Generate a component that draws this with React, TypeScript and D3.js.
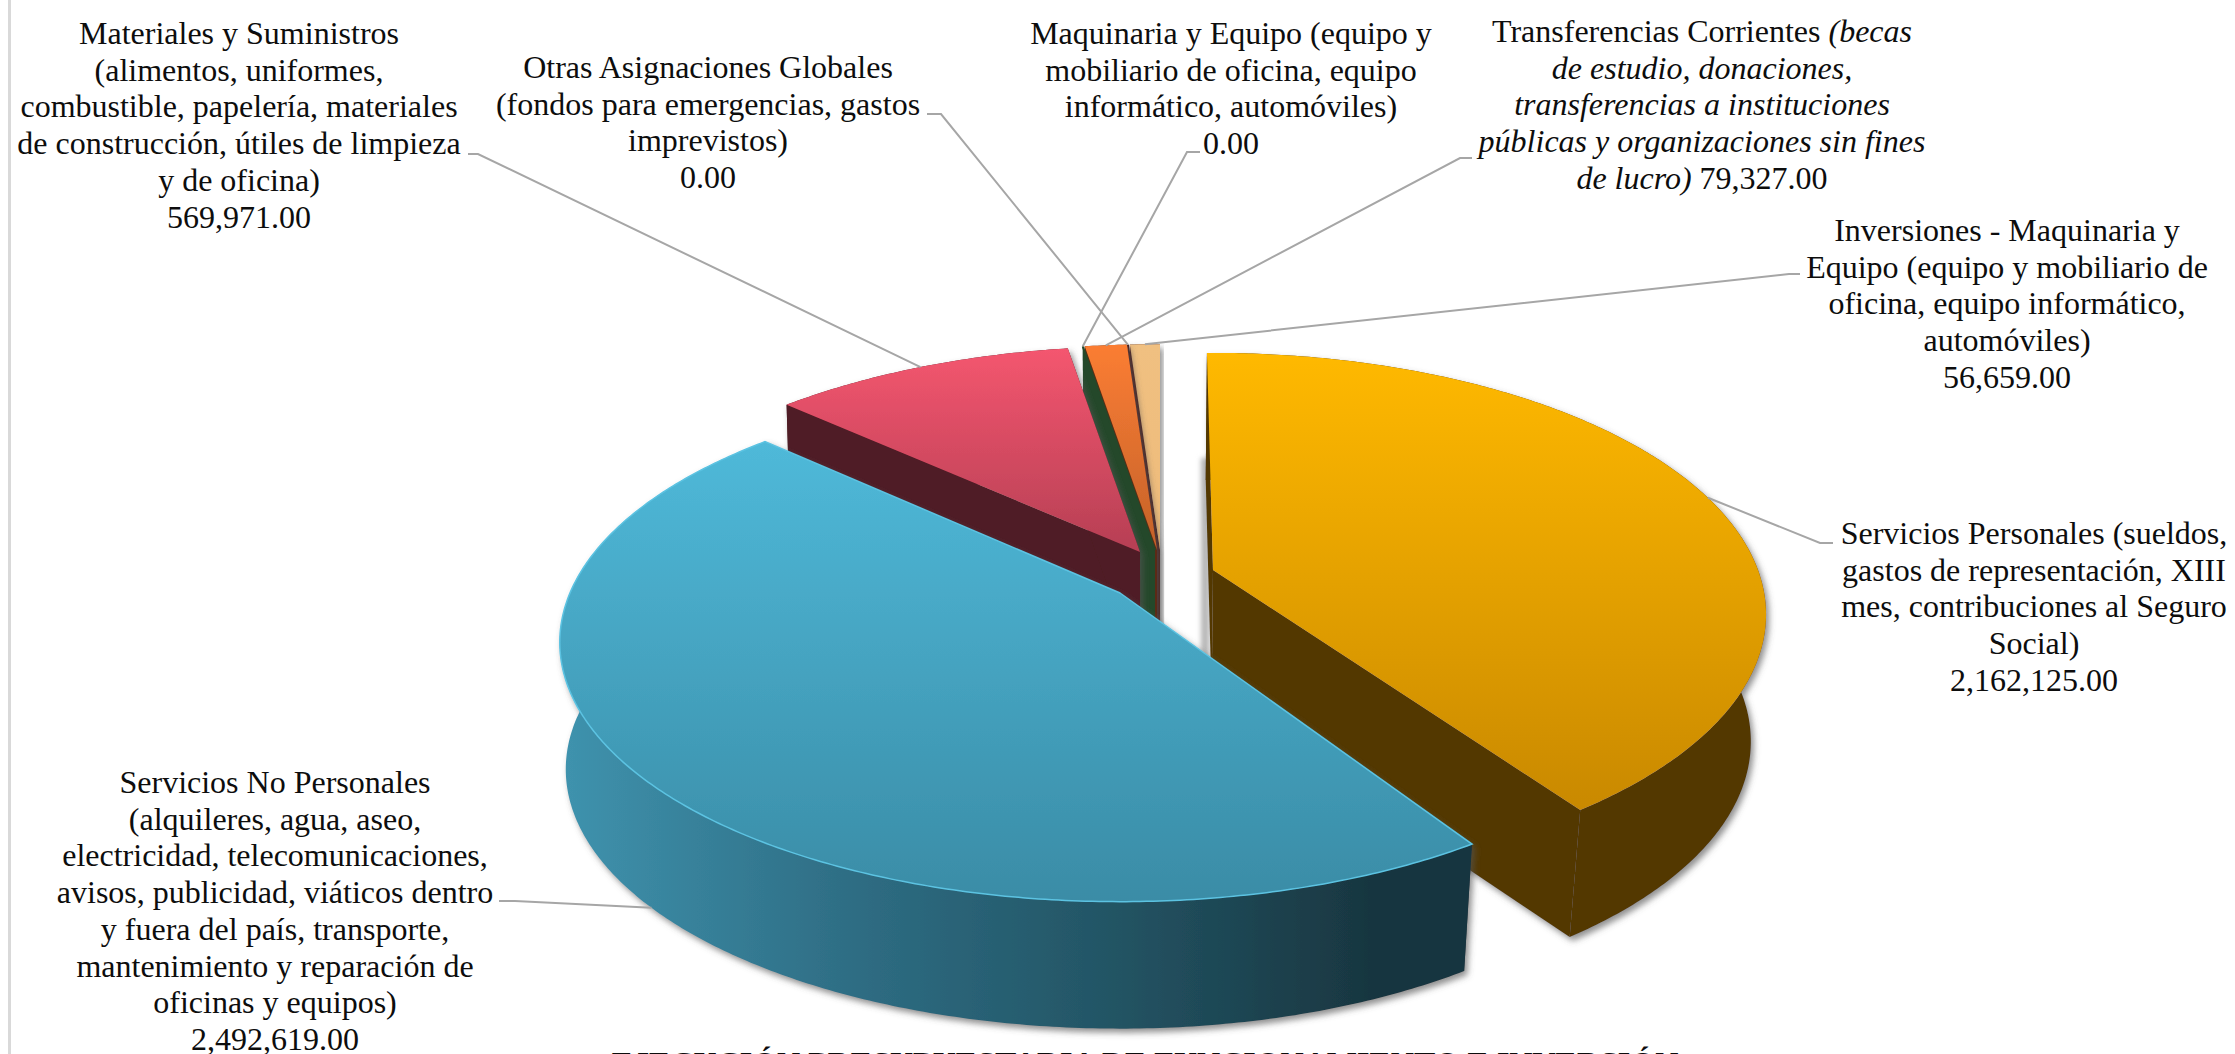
import * as d3 from 'd3';

// clockwise from 12 o'clock, same order as the source workbook
const sliceNames = [
  'Servicios Personales',
  'Servicios No Personales',
  'Materiales y Suministros',
  'Maquinaria y Equipo',
  'Transferencias Corrientes',
  'Otras Asignaciones Globales',
  'Inversiones - Maquinaria y Equipo',
];
const sliceValues = [2162125, 2492619, 569971, 0, 79327, 0, 56659];

const topColors = [
  ['#ffb900', '#c98900'],
  ['#4fb9d9', '#3a8ca6'],
  ['#f4566f', '#b63f54'],
  ['#24482a', '#24482a'],
  ['#fb7d33', '#c4622a'],
  ['#3d1a16', '#3d1a16'],
  ['#f0c081', '#eebb7a'],
];
const wallColors = ['#533900', 'url(#blueWall)', '#4f1b25', '#24482a', '#5c2c12', '#4a1c1a', '#4a1c1a'];

// back slices first, the blue one sits over everything
const paintOrder = [6, 5, 4, 3, 2, 0, 1];

// where each slice's tip lands on the page (exploded slices move away)
const sliceTips = [
  [1213, 570], [1120, 593], [1140, 552], [1155, 550], [1157, 550], [1158, 550], [1160, 550],
];
// the exploded slices don't share the same perspective exactly
const sliceRX = [545, 550, 545, 545, 545, 545, 545];
const sliceRY = [254, 250, 247, 247, 247, 247, 247];
const sliceK = [0.17, 0.19, 0.2, 0.2, 0.2, 0.2, 0.2];
// small angle nudges (radians) at start / end of the exploded slices
const startLean = [-0.013, 0.04, 0, 0, 0, 0, 0];
const endLean = [-0.012, 0.01, 0, 0, 0, 0, 0];

const fmt = d3.format(',.2f');

// "|" toggles italic
const labelLines = [
  ['Servicios Personales (sueldos,', 'gastos de representación, XIII', 'mes, contribuciones al Seguro', 'Social)', fmt(sliceValues[0])],
  ['Servicios No Personales', '(alquileres, agua, aseo,', 'electricidad, telecomunicaciones,', 'avisos, publicidad, viáticos dentro', 'y fuera del país, transporte,', 'mantenimiento y reparación de', 'oficinas y equipos)', fmt(sliceValues[1])],
  ['Materiales y Suministros', '(alimentos, uniformes,', 'combustible, papelería, materiales', 'de construcción, útiles de limpieza', 'y de oficina)', fmt(sliceValues[2])],
  ['Maquinaria y Equipo (equipo y', 'mobiliario de oficina, equipo', 'informático, automóviles)', fmt(sliceValues[3])],
  ['Transferencias Corrientes |(becas', '|de estudio, donaciones,', '|transferencias a instituciones', '|públicas y organizaciones sin fines', `|de lucro)| ${fmt(sliceValues[4])}`],
  ['Otras Asignaciones Globales', '(fondos para emergencias, gastos', 'imprevistos)', fmt(sliceValues[5])],
  ['Inversiones - Maquinaria y', 'Equipo (equipo y mobiliario de', 'oficina, equipo informático,', 'automóviles)', fmt(sliceValues[6])],
];
const labelPos = [
  [2034, 544], [275, 793], [239, 44], [1231, 44], [1702, 42], [708, 78], [2007, 241],
];
// text end of each leader: [end, elbow]
const leaderEnds = [
  [[1833, 543], [1820, 543]],
  [[499, 901], [515, 901]],
  [[468, 154], [478, 154]],
  [[1200, 152], [1187, 152]],
  [[1472, 158], [1460, 158]],
  [[927, 114], [941, 114]],
  [[1800, 274], [1789, 274]],
];

const titleText = 'EJECUCIÓN PRESUPUESTARIA DE FUNCIONAMIENTO E INVERSIÓN';

const W = 2235;
const H = 1054;
const DEPTH = 127;
const MID_X = 1158;

const pieGen = d3.pie<number>().sort(null).startAngle(0).endAngle(2 * Math.PI);
const arcs = pieGen(sliceValues);

function rim(i: number, a: number): [number, number] {
  const [tx, ty] = sliceTips[i];
  const w = 1 + sliceK[i] * Math.cos(a);
  return [tx + (sliceRX[i] * Math.sin(a)) / w, ty - (sliceRY[i] * Math.cos(a)) / w];
}
const lower = ([x, y]: [number, number]): [number, number] => [
  MID_X + (x - MID_X) * (x < MID_X ? 0.99 : 0.975),
  y + DEPTH,
];

const line = d3.line();

function arcPoints(i: number) {
  const a0 = arcs[i].startAngle + startLean[i];
  const a1 = arcs[i].endAngle + endLean[i];
  const n = Math.max(2, Math.ceil((a1 - a0) / 0.01));
  return d3.range(n + 1).map(k => rim(i, a0 + ((a1 - a0) * k) / n));
}

function Slice({ i }: { i: number }) {
  const pts = arcPoints(i);
  const tip = sliceTips[i] as [number, number];
  const low = pts.map(lower);
  const outer = line([...pts, ...low.slice().reverse()]) + 'Z';
  const wallA = line([tip, pts[0], low[0], lower(tip)]) + 'Z';
  const wallB = line([tip, pts[pts.length - 1], low[low.length - 1], lower(tip)]) + 'Z';
  const top = line([tip, ...pts]) + 'Z';
  const isEmpty = sliceValues[i] === 0;
  return (
    <g filter={i === 3 || i === 5 ? undefined : 'url(#pieShadow)'}>
      <path d={outer} fill={wallColors[i]} />
      <path d={wallA} fill={wallColors[i]} />
      <path d={wallB} fill={wallColors[i]} />
      {isEmpty
        ? <path d={line([tip, pts[0]]) as string} stroke={wallColors[i]} strokeWidth={2} fill="none" />
        : <path d={top} fill={`url(#top${i})`} stroke={i === 1 ? '#5cc3e2' : 'none'} strokeWidth={i === 1 ? 1.5 : 0} />}
    </g>
  );
}

function leaderPath(i: number) {
  const mid = (arcs[i].startAngle + arcs[i].endAngle) / 2;
  let anchor = rim(i, mid);
  if (i === 1) anchor = lower(anchor); // the blue one lands on the wall
  const [end, elbow] = leaderEnds[i] as [number, number][];
  return line([end, elbow, anchor]) as string;
}

function Label({ i }: { i: number }) {
  const [x, y] = labelPos[i];
  return (
    <text x={x} y={y} textAnchor="middle" fontFamily="'Liberation Serif'" fontSize={32} fill="#0d0d0d" style={{ whiteSpace: 'pre' }}>
      {labelLines[i].map((ln, j) => (
        <tspan key={j} x={x} y={y + j * 36.7}>
          {ln.split('|').map((run, r) => (
            <tspan key={r} fontStyle={r % 2 ? 'italic' : 'normal'}>{run}</tspan>
          ))}
        </tspan>
      ))}
    </text>
  );
}

// soft shadow the yellow slice throws into the gap on its left
function GapShadow() {
  const [tx, ty] = sliceTips[0];
  return <rect x={tx - 12} y={ty - 112} width={8} height={230} fill="#b5b5b5" filter="url(#gapBlur)" />;
}

export default function App() {
  return (
    <svg width={W} height={H} style={{ position: 'absolute', left: 0, top: 0, display: 'block' }}>
      <defs>
        {topColors.map((c, i) => (
          <linearGradient key={i} id={`top${i}`} x1="0" y1="0" x2="0" y2="1">
            <stop offset="0" stopColor={c[0]} />
            <stop offset="1" stopColor={c[1]} />
          </linearGradient>
        ))}
        <linearGradient id="blueWall" gradientUnits="userSpaceOnUse" x1="560" y1="0" x2="1470" y2="0">
          <stop offset="0" stopColor="#3f93ae" />
          <stop offset="0.3" stopColor="#2f6f86" />
          <stop offset="0.6" stopColor="#235565" />
          <stop offset="0.9" stopColor="#18353f" />
          <stop offset="1" stopColor="#18353f" />
        </linearGradient>
        <filter id="pieShadow" x="-10%" y="-10%" width="120%" height="120%">
          <feDropShadow dx="3" dy="4" stdDeviation="3" floodColor="#555" floodOpacity="0.65" />
        </filter>
        <filter id="gapBlur" x="-100%" y="-10%" width="300%" height="120%">
          <feGaussianBlur stdDeviation="2.5" />
        </filter>
      </defs>
      <rect width={W} height={H} fill="#fff" />
      <line x1={9.5} x2={9.5} y1={0} y2={H} stroke="#d9d9d9" strokeWidth={3} />
      <GapShadow />
      {paintOrder.map(i => <Slice key={sliceNames[i]} i={i} />)}
      {sliceNames.map((n, i) => (
        <path key={n} d={leaderPath(i)} fill="none" stroke="#a6a6a6" strokeWidth={2} />
      ))}
      {sliceNames.map((n, i) => <Label key={n} i={i} />)}
      <text x={1145} y={1074} textAnchor="middle" fontFamily="'Liberation Serif'" fontWeight="bold" fontSize={32} fill="#0d0d0d">
        {titleText}
      </text>
    </svg>
  );
}
